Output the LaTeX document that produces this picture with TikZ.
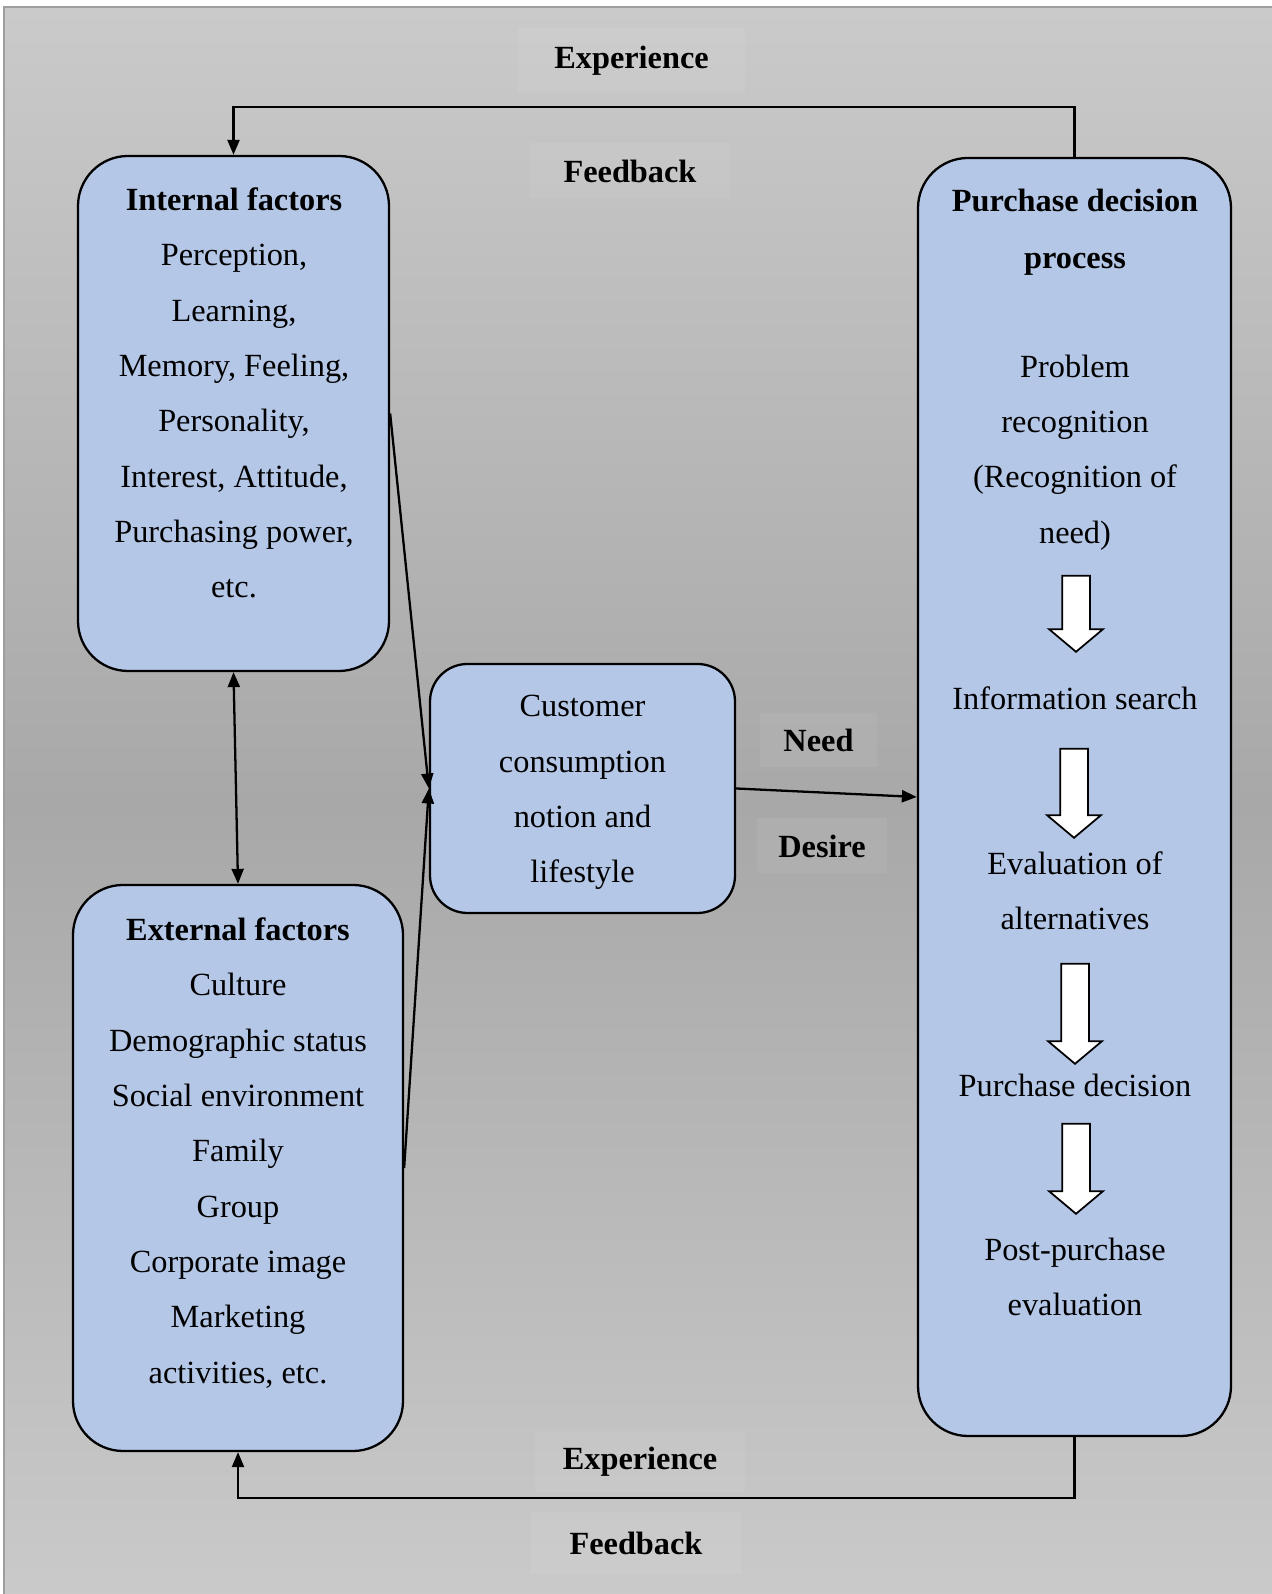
\documentclass[tikz,border=0pt]{standalone}
\usepackage{fontspec}
\setmainfont{Liberation Serif}
\usetikzlibrary{arrows.meta,positioning,shapes.arrows}
\definecolor{boxblue}{RGB}{180,199,231}
\definecolor{bgedge}{RGB}{202,202,202}
\definecolor{bgmid}{RGB}{168,168,168}
\definecolor{frameline}{RGB}{158,158,158}

\begin{document}
\begin{tikzpicture}[x=1cm,y=1cm,font=\fontsize{18.4}{31.5}\selectfont,
  factor/.style={draw=black,fill=boxblue,line width=1.3pt,rounded corners=1cm,inner sep=0pt},
  body/.style={align=center,inner sep=0pt},
  flow/.style={-{Triangle[length=3mm,width=2.4mm]},line width=1.3pt},
  loopnote/.style={fill=white,fill opacity=0.06,text opacity=1,inner sep=0pt,
    font=\bfseries\fontsize{18.4}{22}\selectfont},
  stepdown/.style={single arrow,draw=black,fill=white,line width=1pt,rotate=-90,
    inner xsep=0pt,inner ysep=0.26cm,single arrow head extend=0.26cm,
    single arrow tip angle=100}]

\useasboundingbox (0,0) rectangle (25.42,31.88);
% Page background: light at the edges, darker in the middle.
\fill[white] (0,0) rectangle (25.42,31.88);
\shade[top color=bgedge,bottom color=bgedge,middle color=bgmid,draw=frameline,line width=1.5pt]
  (0.08,-0.2) rectangle (25.7,31.74);

% Labels on the two feedback loops.
\node[loopnote,minimum width=4.54cm,minimum height=1.3cm] (exptop) at (12.63,30.67) {Experience};
\node[loopnote,minimum width=4.0cm,minimum height=1.1cm] (fbtop) at (12.6,28.46) {Feedback};
\node[loopnote,minimum width=4.2cm,minimum height=1.2cm] (expbot) at (12.8,2.64) {Experience};
\node[loopnote,minimum width=4.2cm,minimum height=1.24cm] (fbbot) at (12.72,1.02) {Feedback};
\node[loopnote,minimum width=2.34cm,minimum height=1.08cm] (need) at (16.37,17.08) {Need};
\node[loopnote,minimum width=2.6cm,minimum height=1.1cm] (desire) at (16.44,14.96) {Desire};

% The four boxes.
\node[factor,minimum width=6.22cm,minimum height=10.3cm] (inbox) at (4.67,23.61) {};
\node[factor,minimum width=6.6cm,minimum height=11.32cm] (exbox) at (4.76,8.52) {};
\node[factor,rounded corners=0.75cm,minimum width=6.1cm,minimum height=4.98cm] (cust) at (11.65,16.11) {};
\node[factor,minimum width=6.26cm,minimum height=25.56cm] (purch) at (21.49,15.94) {};

\node[body] (intext) at (4.68,24.02) {\textbf{Internal factors}\\Perception,\\Learning,\\Memory, Feeling,\\Personality,\\Interest, Attitude,\\Purchasing power,\\etc.};
\node[body] (extext) at (4.76,8.82) {\textbf{External factors}\\Culture\\Demographic status\\Social environment\\Family\\Group\\Corporate image\\Marketing\\activities, etc.};
\node[body] (custtext) at (11.65,16.03) {Customer\\consumption\\notion and\\lifestyle};

% Steps of the purchase decision process.
\node[body,font=\bfseries\fontsize{18.4}{32.4}\selectfont] (ptitle) at (21.5,27.23) {Purchase decision\\process};
\node[body] (s1) at (21.5,22.83) {Problem\\recognition\\(Recognition of\\need)};
\node[body] (s2) at (21.5,17.91) {Information search};
\node[body] (s3) at (21.5,14.06) {Evaluation of\\alternatives};
\node[body] (s4) at (21.5,10.18) {Purchase decision};
\node[body] (s5) at (21.5,6.34) {Post-purchase\\evaluation};
\node[stepdown,minimum height=1.52cm] (a1) at (21.52,19.72) {};
\node[stepdown,minimum height=1.78cm] (a2) at (21.48,16.13) {};
\node[stepdown,minimum height=2.0cm] (a3) at (21.5,11.72) {};
\node[stepdown,minimum height=1.8cm] (a4) at (21.52,8.62) {};

% Influences and the two feedback loops.
\draw[flow] (inbox.east) -- (cust.west);
\draw[flow] (exbox.east) -- (cust.west);
\draw[flow] (cust.east) -- (purch.west);
\draw[{Triangle[length=3mm,width=2.4mm]}-{Triangle[length=3mm,width=2.4mm]},line width=1.3pt]
  (inbox.south) -- (exbox.north);
\coordinate (turntop) at (4.67,29.74);
\coordinate (turnbot) at (4.76,1.92);
\draw[flow] (purch.north) |- (turntop) -- (inbox.north);
\draw[flow] (purch.south) |- (turnbot) -- (exbox.south);
\end{tikzpicture}
\end{document}
